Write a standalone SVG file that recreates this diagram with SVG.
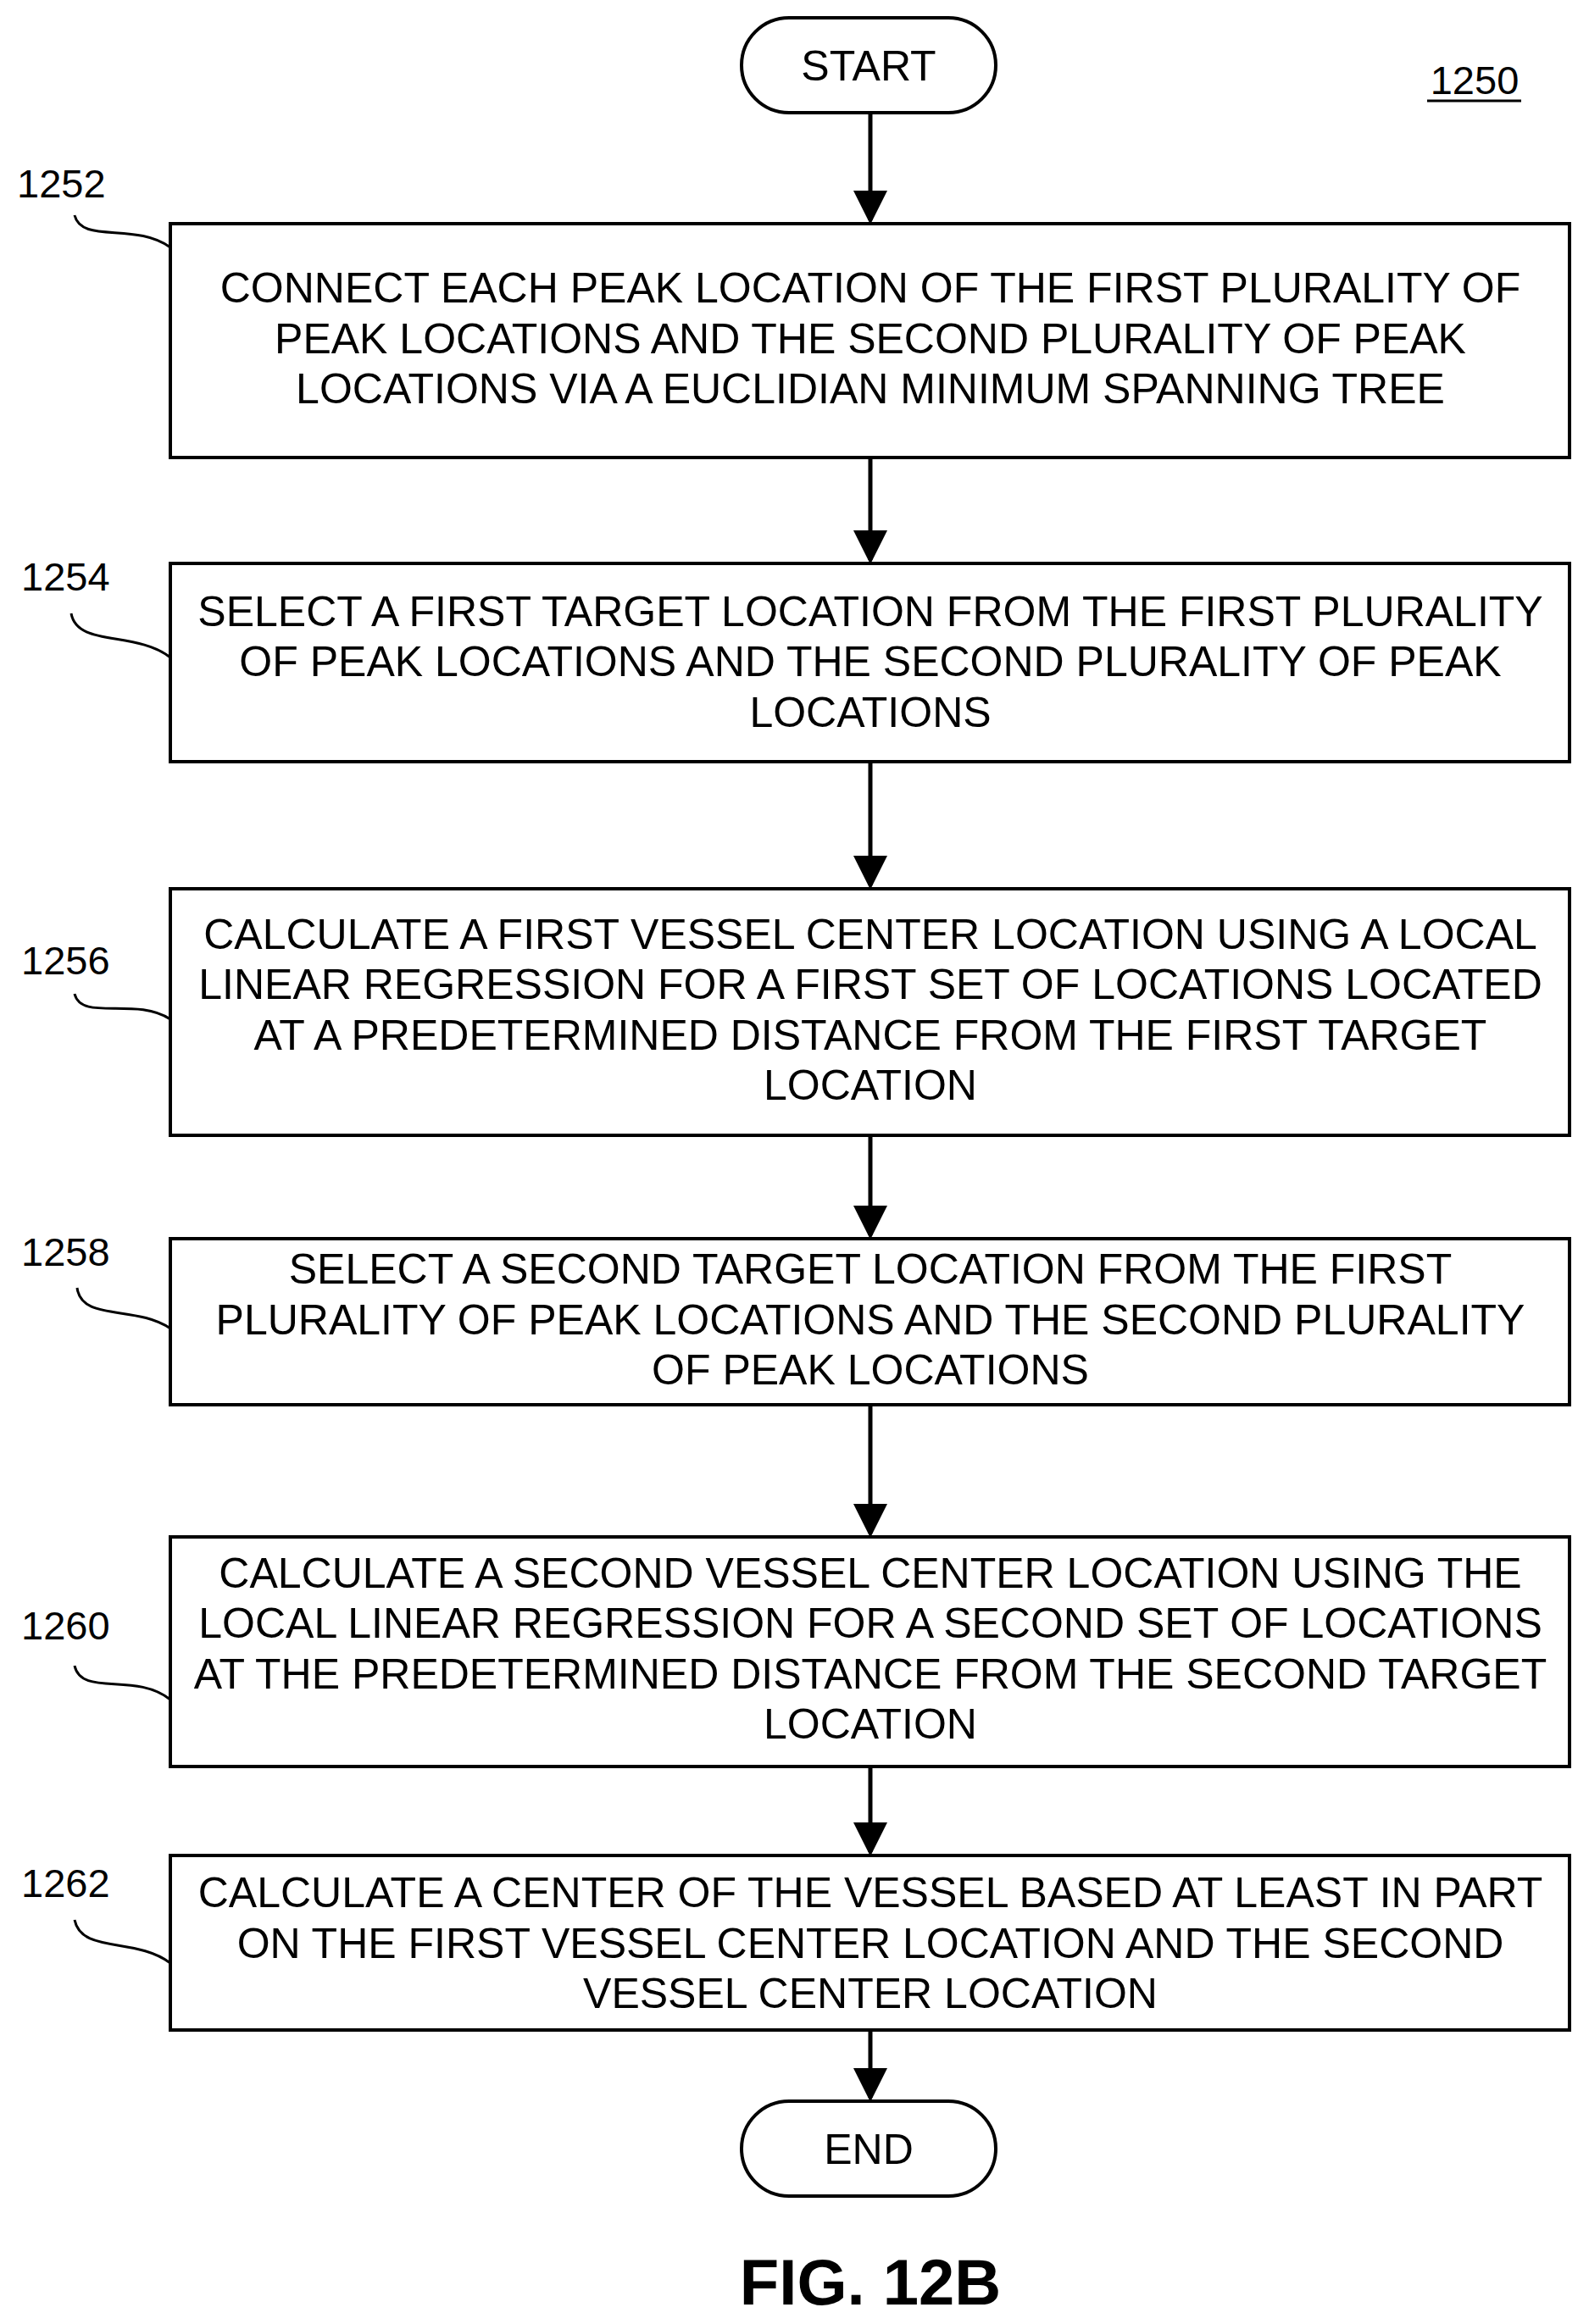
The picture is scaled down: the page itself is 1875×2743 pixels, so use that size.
<svg xmlns="http://www.w3.org/2000/svg" width="1875" height="2743" viewBox="0 0 1875 2743">
<style>
.b{fill:#fff;stroke:#000;stroke-width:4}
.t{font-family:"Liberation Sans",Arial,sans-serif;font-size:50px;text-anchor:middle;fill:#000}
.l{font-family:"Liberation Sans",Arial,sans-serif;font-size:47px;fill:#000}
.c{fill:none;stroke:#000;stroke-width:3}
.a{stroke:#000;stroke-width:5;fill:none;marker-end:url(#ah)}
</style>
<defs><marker id="ah" markerWidth="8" markerHeight="8" refX="7" refY="4" orient="auto" markerUnits="strokeWidth"><path d="M0,0L8,4L0,8Z" fill="#000"/></marker></defs>
<rect width="1875" height="2743" fill="#fff"/>
<g id="connectors">
<line class="a" x1="1027" y1="133" x2="1027" y2="260"/>
<line class="a" x1="1027" y1="540" x2="1027" y2="661"/>
<line class="a" x1="1027" y1="899" x2="1027" y2="1045"/>
<line class="a" x1="1027" y1="1340" x2="1027" y2="1458"/>
<line class="a" x1="1027" y1="1658" x2="1027" y2="1810"/>
<line class="a" x1="1027" y1="2085" x2="1027" y2="2186"/>
<line class="a" x1="1027" y1="2396" x2="1027" y2="2476"/>
<path class="c" d="M88,254 C96,288 160,262 201,292"/>
<path class="c" d="M84,724 C91,764 160,744 201,776"/>
<path class="c" d="M88,1173 C96,1206 160,1176 201,1203"/>
<path class="c" d="M91,1520 C96,1560 160,1540 201,1568"/>
<path class="c" d="M88,1966 C96,2003 160,1973 201,2006"/>
<path class="c" d="M88,2266 C96,2306 160,2286 201,2317"/>
</g>
<g id="start"><rect class="b" x="875" y="21" width="300" height="112" rx="56"/><text class="t" x="1025" y="95">START</text></g>
<g id="ref"><text class="l" x="1740" y="111" text-anchor="middle">1250</text><line x1="1684" y1="119" x2="1795" y2="119" stroke="#000" stroke-width="3"/></g>
<g id="n1252"><text class="l" x="20" y="233">1252</text><rect class="b" x="201" y="264" width="1651" height="276"/>
<text class="t" x="1027" y="357">CONNECT EACH PEAK LOCATION OF THE FIRST PLURALITY OF</text>
<text class="t" x="1027" y="417">PEAK LOCATIONS AND THE SECOND PLURALITY OF PEAK</text>
<text class="t" x="1027" y="476">LOCATIONS VIA A EUCLIDIAN MINIMUM SPANNING TREE</text></g>
<g id="n1254"><text class="l" x="25" y="697">1254</text><rect class="b" x="201" y="665" width="1651" height="234"/>
<text class="t" x="1027" y="739">SELECT A FIRST TARGET LOCATION FROM THE FIRST PLURALITY</text>
<text class="t" x="1027" y="798">OF PEAK LOCATIONS AND THE SECOND PLURALITY OF PEAK</text>
<text class="t" x="1027" y="858">LOCATIONS</text></g>
<g id="n1256"><text class="l" x="25" y="1150">1256</text><rect class="b" x="201" y="1049" width="1651" height="291"/>
<text class="t" x="1027" y="1120">CALCULATE A FIRST VESSEL CENTER LOCATION USING A LOCAL</text>
<text class="t" x="1027" y="1179">LINEAR REGRESSION FOR A FIRST SET OF LOCATIONS LOCATED</text>
<text class="t" x="1027" y="1239">AT A PREDETERMINED DISTANCE FROM THE FIRST TARGET</text>
<text class="t" x="1027" y="1298">LOCATION</text></g>
<g id="n1258"><text class="l" x="25" y="1494">1258</text><rect class="b" x="201" y="1462" width="1651" height="196"/>
<text class="t" x="1027" y="1515">SELECT A SECOND TARGET LOCATION FROM THE FIRST</text>
<text class="t" x="1027" y="1575">PLURALITY OF PEAK LOCATIONS AND THE SECOND PLURALITY</text>
<text class="t" x="1027" y="1634">OF PEAK LOCATIONS</text></g>
<g id="n1260"><text class="l" x="25" y="1935">1260</text><rect class="b" x="201" y="1814" width="1651" height="271"/>
<text class="t" x="1027" y="1874">CALCULATE A SECOND VESSEL CENTER LOCATION USING THE</text>
<text class="t" x="1027" y="1933">LOCAL LINEAR REGRESSION FOR A SECOND SET OF LOCATIONS</text>
<text class="t" x="1027" y="1993">AT THE PREDETERMINED DISTANCE FROM THE SECOND TARGET</text>
<text class="t" x="1027" y="2052">LOCATION</text></g>
<g id="n1262"><text class="l" x="25" y="2239">1262</text><rect class="b" x="201" y="2190" width="1651" height="206"/>
<text class="t" x="1027" y="2251">CALCULATE A CENTER OF THE VESSEL BASED AT LEAST IN PART</text>
<text class="t" x="1027" y="2311">ON THE FIRST VESSEL CENTER LOCATION AND THE SECOND</text>
<text class="t" x="1027" y="2370">VESSEL CENTER LOCATION</text></g>
<g id="end"><rect class="b" x="875" y="2480" width="300" height="112" rx="56"/><text class="t" x="1025" y="2554">END</text></g>
<text x="1027" y="2720" text-anchor="middle" font-family="Liberation Sans,Arial,sans-serif" font-weight="bold" font-size="76">FIG. 12B</text>
</svg>
